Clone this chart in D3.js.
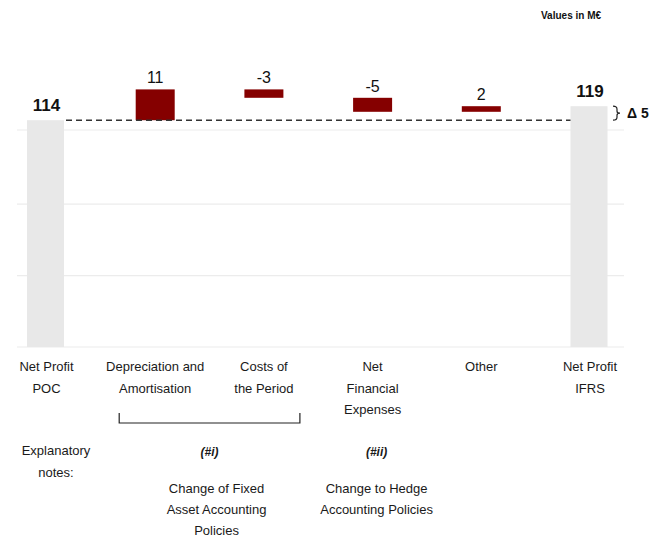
<!DOCTYPE html>
<html>
<head>
<meta charset="utf-8">
<script src="https://cdn.jsdelivr.net/npm/d3@7"></script>
<style>
  html, body { margin: 0; padding: 0; background: #fff; }
  svg { display: block; font-family: "Liberation Sans", Arial, sans-serif; }
</style>
</head>
<body>
<svg id="chart" width="657" height="539"></svg>
<script>
// Net profit bridge, POC to IFRS (values in M€)
const categories = ["Net Profit POC", "Depreciation and Amortisation", "Costs of the Period",
                    "Net Financial Expenses", "Other", "Net Profit IFRS"];
const labelLines = [["Net Profit", "POC"], ["Depreciation and", "Amortisation"], ["Costs of", "the Period"],
                    ["Net", "Financial", "Expenses"], ["Other"], ["Net Profit", "IFRS"]];
const kinds  = ["total", "delta", "delta", "delta", "delta", "total"];
const values = [114, 11, -3, -5, 2, 119];
const gridValues = [33, 58.5, 84, 110.5];
const noteTags   = ["(#i)", "(#ii)"];
const noteTexts  = [["Change of Fixed", "Asset Accounting", "Policies"], ["Change to Hedge", "Accounting Policies"]];
const noteGroups = [[1, 2], [3]];

const svg = d3.select("#chart");

const x = d3.scalePoint().domain(categories).range([46.5, 590]);
const y = d3.scaleLinear().domain([33, 125]).range([347, 89.4]);
const barW = 39;

// running totals for the bridge
let running = 0;
const bars = categories.map((c, i) => {
  let lo, hi;
  if (kinds[i] === "total") { lo = y.domain()[0]; hi = values[i]; running = values[i]; }
  else { const s = running; running += values[i]; lo = Math.min(s, running); hi = Math.max(s, running); }
  return { cat: c, kind: kinds[i], value: values[i], lo, hi };
});

// faint horizontal grid
svg.append("g").selectAll("line").data(gridValues).join("line")
  .attr("x1", 17).attr("x2", 624)
  .attr("y1", d => y(d)).attr("y2", d => y(d))
  .attr("stroke", "#ececec").attr("stroke-width", 1.2);

// bars
svg.append("g").selectAll("rect").data(bars).join("rect")
  .attr("x", d => x(d.cat) - barW / 2)
  .attr("width", d => d.kind === "total" ? barW - 2 : barW)
  .attr("y", d => y(d.hi))
  .attr("height", d => y(d.lo) - y(d.hi))
  .attr("fill", d => d.kind === "total" ? "#e8e8e8" : "#850000");

// dashed reference line at the starting total
const start = values[0], end = values[values.length - 1];
svg.append("line")
  .attr("x1", x(categories[0]) + barW / 2).attr("x2", x(categories[5]) - barW / 2)
  .attr("y1", y(start)).attr("y2", y(start))
  .attr("stroke", "#333").attr("stroke-width", 1.4).attr("stroke-dasharray", "6,4");

// value labels
svg.append("g").selectAll("text").data(bars).join("text")
  .attr("x", d => x(d.cat))
  .attr("y", d => y(d.hi) - (d.kind === "total" ? 9 : 6))
  .attr("text-anchor", "middle")
  .attr("font-size", d => d.kind === "total" ? 17 : 16)
  .attr("font-weight", d => d.kind === "total" ? "bold" : "normal")
  .attr("fill", "#111")
  .text(d => d.value);

// brace and delta between the two totals
const bx = 613, yTop = y(end), yBot = y(start), ym = (yTop + yBot) / 2;
svg.append("path")
  .attr("d", `M${bx},${yTop} Q${bx + 4},${yTop} ${bx + 4},${yTop + 3} L${bx + 4},${ym - 2} Q${bx + 4},${ym} ${bx + 7},${ym}
              Q${bx + 4},${ym} ${bx + 4},${ym + 2} L${bx + 4},${yBot - 3} Q${bx + 4},${yBot} ${bx},${yBot}`)
  .attr("fill", "none").attr("stroke", "#222").attr("stroke-width", 1.2);
svg.append("text").attr("x", 627).attr("y", ym + 5)
  .attr("font-size", 14).attr("font-weight", "bold").attr("fill", "#111")
  .text("Δ " + (end - start));

// units
svg.append("text").attr("x", 541).attr("y", 19)
  .attr("font-size", 10).attr("font-weight", "bold").attr("fill", "#111")
  .text("Values in M€");

// category labels
const catLabels = svg.append("g").selectAll("text").data(categories).join("text")
  .attr("x", d => x(d)).attr("y", 371)
  .attr("text-anchor", "middle").attr("font-size", 13).attr("fill", "#1a1a1a");
catLabels.each(function (d, i) {
  d3.select(this).selectAll("tspan").data(labelLines[i]).join("tspan")
    .attr("x", x(d)).attr("dy", (t, j) => j === 0 ? 0 : 21.5).text(t => t);
});

// bracket grouping the fixed-asset items
const bL = x(categories[noteGroups[0][0]]) - 36, bR = x(categories[noteGroups[0][1]]) + 36;
svg.append("path")
  .attr("d", `M${bL},413 L${bL},423 L${bR},423 L${bR},413`)
  .attr("fill", "none").attr("stroke", "#222").attr("stroke-width", 1.2);

// explanatory notes
svg.append("text").attr("x", 56).attr("y", 455).attr("text-anchor", "middle")
  .attr("font-size", 13).attr("fill", "#1a1a1a")
  .selectAll("tspan").data(["Explanatory", "notes:"]).join("tspan")
  .attr("x", 56).attr("dy", (t, j) => j === 0 ? 0 : 21.5).text(t => t);

const noteCenters = [(bL + bR) / 2, x(categories[noteGroups[1][0]]) + 4];
noteTags.forEach((tag, k) => {
  svg.append("text").attr("x", noteCenters[k]).attr("y", 456).attr("text-anchor", "middle")
    .attr("font-size", 12).attr("font-weight", "bold").attr("font-style", "italic").attr("fill", "#1a1a1a")
    .text(tag);
  svg.append("text").attr("x", noteCenters[k] + (k === 0 ? 7 : 0)).attr("y", 493).attr("text-anchor", "middle")
    .attr("font-size", 13).attr("fill", "#1a1a1a")
    .selectAll("tspan").data(noteTexts[k]).join("tspan")
    .attr("x", noteCenters[k] + (k === 0 ? 7 : 0)).attr("dy", (t, j) => j === 0 ? 0 : 21).text(t => t);
});
</script>
</body>
</html>
